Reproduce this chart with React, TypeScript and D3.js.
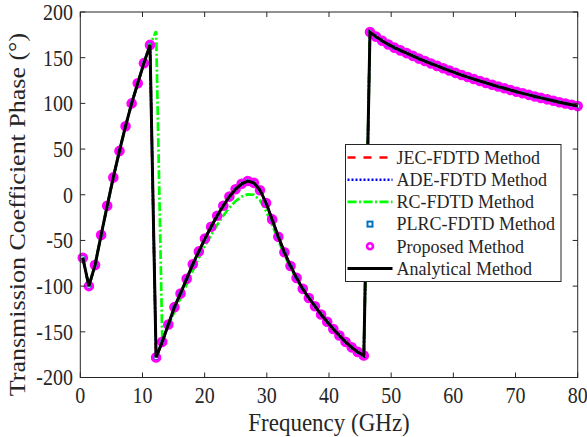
import * as d3 from "d3";

// sample frequencies (GHz)
const freqGHz = [
  0.4, 1.38, 2.37, 3.35, 4.33, 5.31, 6.3, 7.28, 8.26, 9.24,
  10.23, 11.21, 12.19, 13.18, 14.16, 15.14, 16.12, 17.11, 18.09, 19.07,
  20.05, 21.04, 22.02, 23.0, 23.98, 24.97, 25.95, 26.93, 27.92, 28.9,
  29.88, 30.86, 31.85, 32.83, 33.81, 34.79, 35.78, 36.76, 37.74, 38.73,
  39.71, 40.69, 41.67, 42.66, 43.64, 44.62, 45.6, 46.59, 47.57, 48.55,
  49.54, 50.52, 51.5, 52.48, 53.47, 54.45, 55.43, 56.41, 57.4, 58.38,
  59.36, 60.35, 61.33, 62.31, 63.29, 64.28, 65.26, 66.24, 67.22, 68.21,
  69.19, 70.17, 71.15, 72.14, 73.12, 74.1, 75.09, 76.07, 77.05, 78.03,
  79.02, 80.0,
];

// analytical phase (deg) - JEC, ADE, PLRC and proposed lie on top of it
const analyticalPhase = [
  -69, -100, -77, -44, -12, 19, 48, 75, 100, 122,
  144, 164, -178, -161, -142, -123, -108, -92, -76, -62,
  -48, -35, -23, -12, -2, 6, 12, 15, 13, 5,
  -9, -27, -46, -63, -78, -91, -103, -113, -122, -131,
  -139, -147, -154, -161, -167, -172, -176, 178, 173, 168.5,
  164.5, 161, 158, 155, 152, 149, 146.3, 143.6, 141, 138.4,
  135.9, 133.4, 131, 128.8, 126.6, 124.5, 122.4, 120.4, 118.4, 116.5,
  114.6, 112.8, 111, 109.3, 107.6, 106, 104.4, 102.8, 101.3, 99.8,
  98.4, 97,
];

// RC-FDTD phase (deg)
const rcPhase = [
  -69, -100, -77, -44, -12, 19, 48, 75, 100, 122,
  144, 164, 179, -157, -144, -128, -113, -98, -83, -69,
  -56, -44, -33, -23, -14, -7, -2, 0.5, 0, -6,
  -18, -33, -50, -66, -80, -93, -104, -113, -122, -131,
  -139, -147, -154, -161, -167, -172, -176, 178, 173, 168.5,
  164.5, 161, 158, 155, 152, 149, 146.3, 143.6, 141, 138.4,
  135.9, 133.4, 131, 128.8, 126.6, 124.5, 122.4, 120.4, 118.4, 116.5,
  114.6, 112.8, 111, 109.3, 107.6, 106, 104.4, 102.8, 101.3, 99.8,
  98.4, 97,
];

const jecPhase = analyticalPhase;
const adePhase = analyticalPhase;
const plrcPhase = analyticalPhase;
const proposedPhase = analyticalPhase;

const xTicks = [0, 10, 20, 30, 40, 50, 60, 70, 80];
const yTicks = [-200, -150, -100, -50, 0, 50, 100, 150, 200];

const legendNames = [
  "JEC-FDTD Method",
  "ADE-FDTD Method",
  "RC-FDTD Method",
  "PLRC-FDTD Method",
  "Proposed Method",
  "Analytical Method",
];

const width = 587;
const height = 437;
const font = "'Liberation Serif', 'Times New Roman', serif";
const axisColor = "#262626";

const redDash = "8,8";
const blueDot = "2,2";
const greenDashDot = "9,2.5,2,2.5";

export default function App() {
  const left = 80.3, right = 577.7, top = 12, bottom = 377.5;

  const x = d3.scaleLinear().domain([0, 80]).range([left, right]);
  const y = d3.scaleLinear().domain([-200, 200]).range([bottom, top]);

  const toPts = (vals: number[]) => freqGHz.map((f, i) => [f, vals[i]] as [number, number]);
  const line = d3.line<[number, number]>().x(d => x(d[0])).y(d => y(d[1]));

  const lg = { x0: 345.5, y0: 144.5, x1: 561, y1: 281.5 };
  const rowY = (i: number) => 157.5 + i * 22.2;

  return (
    <svg width={width} height={height} style={{ position: "absolute", left: 0, top: 0, background: "#fff" }} fontFamily={font}>
      <rect x={0} y={0} width={width} height={height} fill="#fff" />

      {/* data */}
      <path d={line(toPts(jecPhase)) || ""} fill="none" stroke="#ff0000" strokeWidth={2.5} strokeDasharray={redDash} />
      <path d={line(toPts(adePhase)) || ""} fill="none" stroke="#0000ff" strokeWidth={2.5} strokeDasharray={blueDot} />
      <path d={line(toPts(rcPhase)) || ""} fill="none" stroke="#00ff00" strokeWidth={2.7} strokeDasharray={greenDashDot} />
      {toPts(plrcPhase).map((d, i) => (
        <rect key={"s" + i} x={x(d[0]) - 2.5} y={y(d[1]) - 2.5} width={5} height={5} fill="none" stroke="#0072bd" strokeWidth={2} />
      ))}
      {toPts(proposedPhase).map((d, i) => (
        <circle key={"c" + i} cx={x(d[0])} cy={y(d[1])} r={3.8} fill="none" stroke="#ff00ff" strokeWidth={3} />
      ))}
      <path d={line(toPts(analyticalPhase)) || ""} fill="none" stroke="#000" strokeWidth={3} />

      {/* axes box */}
      <rect x={left} y={top} width={right - left} height={bottom - top} fill="none" stroke={axisColor} strokeWidth={1} />
      {xTicks.map(t => (
        <g key={"x" + t}>
          <line x1={x(t)} x2={x(t)} y1={bottom} y2={bottom - 5} stroke={axisColor} />
          <line x1={x(t)} x2={x(t)} y1={top} y2={top + 5} stroke={axisColor} />
          <text transform={`translate(${x(t)},402.5) scale(1,1.12)`} textAnchor="middle" fontSize={20} fill={axisColor}>{t}</text>
        </g>
      ))}
      {yTicks.map(t => (
        <g key={"y" + t}>
          <line x1={left} x2={left + 5} y1={y(t)} y2={y(t)} stroke={axisColor} />
          <line x1={right} x2={right - 5} y1={y(t)} y2={y(t)} stroke={axisColor} />
          <text transform={`translate(73,${y(t)}) scale(1,1.12)`} dy="0.35em" textAnchor="end" fontSize={20} fill={axisColor}>{t}</text>
        </g>
      ))}
      <text transform={`translate(${(left + right) / 2},431) scale(1,1.12)`} textAnchor="middle" fontSize={23} fill={axisColor}>Frequency (GHz)</text>
      <text transform="translate(25,214.5) scale(1,1.13) rotate(-90)" textAnchor="middle" fontSize={23} fill={axisColor}>
        Transmission Coefficient Phase (°)
      </text>

      {/* legend */}
      <rect x={lg.x0} y={lg.y0} width={lg.x1 - lg.x0} height={lg.y1 - lg.y0} fill="#fff" stroke={axisColor} strokeWidth={1} />
      <line x1={347.5} x2={392.5} y1={rowY(0)} y2={rowY(0)} stroke="#ff0000" strokeWidth={2.5} strokeDasharray={redDash} />
      <line x1={347.5} x2={392.5} y1={rowY(1)} y2={rowY(1)} stroke="#0000ff" strokeWidth={2.5} strokeDasharray={blueDot} />
      <line x1={347.5} x2={392.5} y1={rowY(2)} y2={rowY(2)} stroke="#00ff00" strokeWidth={2.7} strokeDasharray={greenDashDot} />
      <rect x={370 - 2.5} y={rowY(3) - 2.5} width={5} height={5} fill="none" stroke="#0072bd" strokeWidth={2} />
      <circle cx={370} cy={rowY(4)} r={3} fill="none" stroke="#ff00ff" strokeWidth={2.6} />
      <line x1={347.5} x2={392.5} y1={rowY(5)} y2={rowY(5)} stroke="#000" strokeWidth={3} />
      {legendNames.map((n, i) => (
        <text key={n} x={396.5} y={rowY(i)} dy="0.35em" fontSize={18} fill={axisColor}>{n}</text>
      ))}
    </svg>
  );
}
